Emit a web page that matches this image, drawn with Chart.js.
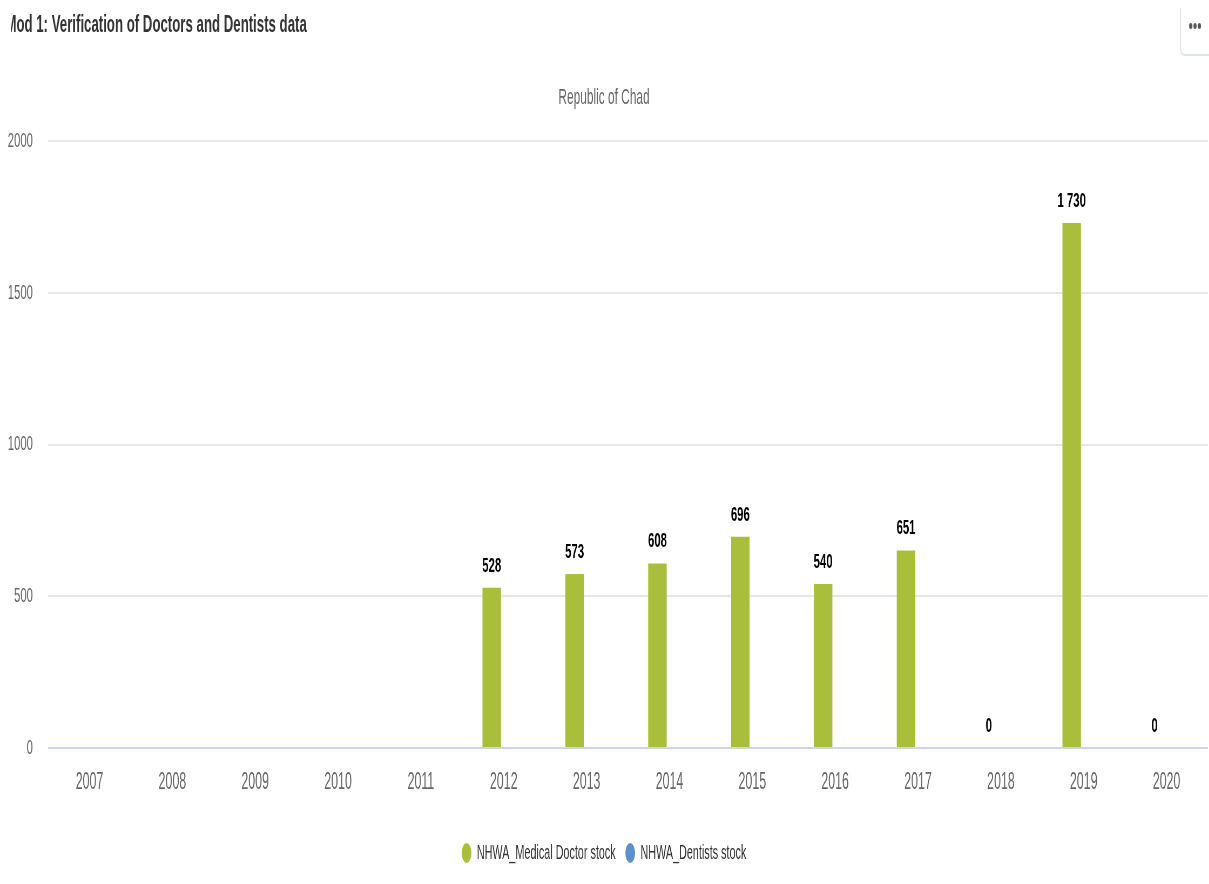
<!DOCTYPE html>
<html>
<head>
<meta charset="utf-8">
<title>Mod 1: Verification of Doctors and Dentists data</title>
<script src="https://cdn.jsdelivr.net/npm/chart.js@4.4.1/dist/chart.umd.min.js"></script>
<style>
  html, body { margin: 0; padding: 0; background: #fff; overflow: hidden; }
  /* the whole card is laid out wide, then squeezed horizontally */
  #stage {
    position: absolute; left: 0; top: 0;
    width: 2239px; height: 884px;
    transform: scaleX(0.54); transform-origin: 0 0;
    font-family: "Liberation Sans", Arial, sans-serif;
  }
  #chart { position: absolute; left: 0; top: 0; }
  .card-title {
    position: absolute; left: 20px; top: 9px; width: 900px;
    overflow: hidden; white-space: nowrap;
    font-size: 24.5px; line-height: 30px; font-weight: bold; color: #333;
  }
  .card-title span { display: inline-block; margin-left: -10px; }
  .menu-btn {
    position: absolute; left: 2185px; top: 8px; width: 80px; height: 46px;
    border-left: 2px solid #dfe3ea; border-bottom: 2px solid #dfe3ea;
    border-bottom-left-radius: 8px;
  }
  .menu-btn i {
    position: absolute; top: 15px; width: 6px; height: 6px;
    border-radius: 50%; background: #555;
  }
</style>
</head>
<body>
<div id="stage">
  <canvas id="chart" width="2239" height="884"></canvas>
  <div class="card-title"><span>Mod 1: Verification of Doctors and Dentists data</span></div>
  <div class="menu-btn"><i style="left:15px"></i><i style="left:23px"></i><i style="left:31px"></i></div>
</div>
<script>
const years = ['2007', '2008', '2009', '2010', '2011', '2012', '2013',
               '2014', '2015', '2016', '2017', '2018', '2019', '2020'];
const doctorStock = [null, null, null, null, null, 528, 573, 608, 696, 540, 651, 0, 1730, 0];
const dentistStock = [null, null, null, null, null, null, null, null, null, null, null, null, null, null];
const yTicks = [0, 500, 1000, 1500, 2000];

const FONT = '"Liberation Sans", Arial, sans-serif';

function formatValue(v) {
    return String(v).replace(/\B(?=(\d{3})+(?!\d))/g, ' ');
}

// value labels above each bar
const valueLabels = {
    id: 'valueLabels',
    afterDatasetsDraw(chart) {
        const ctx = chart.ctx;
        ctx.save();
        ctx.font = 'bold 21px ' + FONT;
        ctx.fillStyle = '#000';
        ctx.textAlign = 'center';
        ctx.textBaseline = 'middle';
        chart.data.datasets.forEach((ds, i) => {
            const meta = chart.getDatasetMeta(i);
            if (meta.hidden) return;
            meta.data.forEach((bar, j) => {
                const v = ds.data[j];
                if (v === null || v === undefined) return;
                ctx.fillText(formatValue(v), bar.x, bar.y - 22);
            });
        });
        ctx.restore();
    }
};

function createChart() {
    const ctx = document.getElementById('chart').getContext('2d');
    new Chart(ctx, {
        type: 'bar',
        data: {
            labels: years,
            datasets: [
                {
                    label: 'NHWA_Medical Doctor stock',
                    data: doctorStock,
                    backgroundColor: '#a9bf3c',
                    borderWidth: 0,
                    categoryPercentage: 0.58,
                    barPercentage: 0.77
                },
                {
                    label: 'NHWA_Dentists stock',
                    data: dentistStock,
                    backgroundColor: '#5b90c8',
                    borderWidth: 0,
                    categoryPercentage: 0.58,
                    barPercentage: 0.77
                }
            ]
        },
        options: {
            responsive: false,
            animation: false,
            devicePixelRatio: 1,
            events: [],
            layout: {
                padding: { top: 84.8, bottom: 11, left: 0, right: 2 }
            },
            scales: {
                x: {
                    grid: { display: false },
                    border: { display: false },
                    ticks: {
                        color: '#666',
                        padding: 13,
                        font: { family: FONT, size: 23 }
                    },
                    afterFit: scale => { scale.height = 77; }
                },
                y: {
                    min: 0,
                    max: 2000,
                    afterBuildTicks: scale => {
                        scale.ticks = yTicks.map(v => ({ value: v }));
                    },
                    grid: {
                        drawTicks: false,
                        lineWidth: 2,
                        color: c => (c.tick && c.tick.value === 0 ? '#ccd6eb' : '#e6e6e6')
                    },
                    border: { display: false },
                    ticks: {
                        color: '#666',
                        padding: 28,
                        font: { family: FONT, size: 21 },
                        callback: v => String(v)
                    },
                    afterFit: scale => { scale.width = 89; }
                }
            },
            plugins: {
                title: {
                    display: true,
                    text: 'Republic of Chad',
                    color: '#666',
                    font: { family: FONT, size: 22, weight: 'normal' },
                    padding: { top: 0, bottom: 29.8 }
                },
                legend: {
                    position: 'bottom',
                    labels: {
                        usePointStyle: true,
                        pointStyle: 'circle',
                        pointStyleWidth: 18,
                        boxHeight: 14,
                        padding: 18,
                        color: '#333',
                        font: { family: FONT, size: 20 }
                    }
                },
                tooltip: { enabled: false }
            }
        },
        plugins: [valueLabels]
    });
}

document.addEventListener('DOMContentLoaded', createChart);
</script>
</body>
</html>
